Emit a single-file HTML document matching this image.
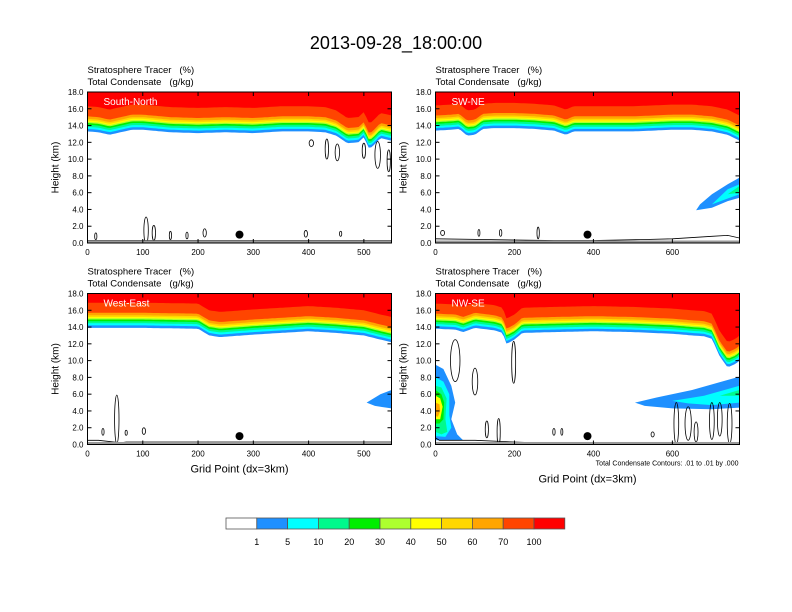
<!DOCTYPE html>
<html><head><meta charset="utf-8"><style>
html,body{margin:0;padding:0;background:#fff}
svg{display:block;font-family:"Liberation Sans",sans-serif}
</style></head><body>
<svg id="c" width="792" height="612" viewBox="0 0 792 612">
<text x="396" y="49" font-size="18" text-anchor="middle">2013-09-28_18:00:00</text>
</svg>
<script>
// ---- data ----
const levelLabels = ["1","5","10","20","30","40","50","60","70","100"];
const levelColors = ["#ffffff","#1e90ff","#00ffff","#00fa8c","#00ee00","#adff2f","#ffff00","#ffd700","#ffa500","#ff4500","#ff0000"];
const levelOffsets = [0,0.3,0.55,0.8,1.0,1.15,1.3,1.5,1.8,3.0]; // km above 1% boundary
const yTicks = [0,2,4,6,8,10,12,14,16,18];
const panelNames = ["South-North","SW-NE","West-East","NW-SE"];
const panelMaxX = [550,770,550,770];
const xTicksP = [[0,100,200,300,400,500],[0,200,400,600],[0,100,200,300,400,500],[0,200,400,600]];
const baseX = [
 [0,20,40,60,80,100,150,200,250,300,350,400,430,450,470,490,500,510,520,530,550],
 [0,40,60,80,100,120,150,200,250,300,330,350,400,500,600,650,700,740,770],
 [0,50,100,200,220,240,300,350,400,450,500,530,550],
 [0,50,70,100,150,170,180,200,220,300,400,500,600,650,680,700,720,740,760,770]];
const baseH = [
 [13.3,13.2,12.9,13.2,13.5,13.5,13.2,13.1,13.2,13.1,13.3,13.3,13.2,12.8,11.9,12.0,12.6,11.2,11.8,12.5,12.2],
 [13.4,13.5,13.6,12.8,12.9,13.6,13.7,13.7,13.6,13.4,12.9,13.3,13.3,13.3,13.5,13.5,13.3,12.9,12.2],
 [13.9,13.9,13.9,13.8,13.0,12.8,13.1,13.3,13.5,13.3,13.0,12.5,12.2],
 [13.8,13.7,13.4,13.9,13.6,13.3,12.0,12.5,13.3,13.4,13.5,13.4,13.2,13.0,12.9,12.6,10.5,9.2,9.6,10.0]];
const blobs = [
 [1,1,[660,3.9,700,4.2,740,5.0,770,5.4,770,7.8,740,7.0,700,5.8,670,4.6]],
 [1,2,[700,4.6,740,5.3,770,5.8,770,7.0,740,6.4]],
 [1,3,[740,5.8,770,6.0,770,6.8]],
 [2,1,[505,5.0,520,4.6,550,4.3,550,6.5,530,6.0]],
 [3,1,[0,9.5,20,9.0,40,7.0,50,5.0,40,3.0,55,1.2,70,0.5,0,0.5]],
 [3,2,[0,8.0,20,7.5,35,6.0,35,3.5,40,2.0,25,0.9,0,1.0]],
 [3,3,[0,7.0,15,6.8,28,5.5,25,3.0,30,1.5,15,1.2,0,1.5]],
 [3,4,[0,6.5,15,6.0,22,5.0,20,3.0,10,2.5,0,2.5]],
 [3,6,[0,5.8,12,5.5,18,4.5,12,3.0,0,3.0]],
 [3,8,[0,5.0,10,4.8,12,4.0,6,3.3,0,3.4]],
 [3,1,[505,5.0,560,5.6,650,6.5,770,8.1,770,4.4,700,4.2,600,4.3,530,4.6]],
 [3,2,[600,5.2,680,5.8,770,7.0,770,5.0,700,4.7,640,4.9]],
 [3,3,[720,5.8,770,6.5,770,5.8]]];
const contours = [
 [0,106,1.5,4,1.6],[0,120,1.2,3,0.9],[0,150,0.9,2,0.5],[0,180,0.9,2,0.4],[0,212,1.2,3,0.5],[0,15,0.8,2,0.4],
 [0,405,11.9,4,0.4],[0,433,11.2,3,1.2],[0,452,10.8,4,1.0],[0,500,11.0,3,0.9],[0,525,10.5,5,1.6],[0,545,9.8,3,1.3],[0,395,1.1,3,0.4],[0,458,1.1,2,0.3],
 [1,18,1.2,5,0.3],[1,110,1.2,2,0.4],[1,165,1.2,3,0.4],[1,260,1.2,3,0.7],
 [2,53,3.0,4,2.9],[2,28,1.5,2,0.4],[2,102,1.6,3,0.4],[2,70,1.4,2,0.3],
 [3,50,10.0,12,2.5],[3,100,7.5,7,1.6],[3,198,9.8,5,2.5],[3,130,1.8,4,1.0],[3,160,1.5,4,1.6],[3,300,1.5,3,0.4],[3,320,1.5,2,0.4],
 [3,610,2.5,6,2.5],[3,640,2.5,8,2.0],[3,660,1.5,5,1.2],[3,700,2.8,6,2.2],[3,720,3.0,6,2.0],[3,745,2.5,6,2.4],[3,550,1.2,4,0.3]];
const terrainX = [[0,550],[0,300,400,520,600,700,740,770],[0,20,60,70,550],[0,10,100,200,250,770]];
const terrainH = [[0.3,0.3],[0.5,0.3,0.3,0.4,0.5,0.8,0.9,0.6],[0.5,0.5,0.2,0.3,0.3],[0.8,0.5,0.5,0.3,0.2,0.2]];
const dotX = [275,385,275,385];

const panels=[{x0:87.5,x1:391.5,y0:92,y1:243},{x0:435.5,x1:739.5,y0:92,y1:243},
              {x0:87.5,x1:391.5,y0:293.5,y1:444.5},{x0:435.5,x1:739.5,y0:293.5,y1:444.5}];
const svg=document.getElementById('c');const NS="http://www.w3.org/2000/svg";
function mk(t,a,p){const e=document.createElementNS(NS,t);for(const k in a)e.setAttribute(k,a[k]);(p||svg).appendChild(e);return e;}
function interp(xs,hs,x){if(x<=xs[0])return hs[0];for(let i=1;i<xs.length;i++){if(x<=xs[i]){const t=(x-xs[i-1])/(xs[i]-xs[i-1]);return hs[i-1]+t*(hs[i]-hs[i-1]);}}return hs[hs.length-1];}

panels.forEach((P,pi)=>{
 const sx=v=>P.x0+(v/panelMaxX[pi])*(P.x1-P.x0);
 const sy=h=>P.y1-(h/18)*(P.y1-P.y0);
 const g=mk('g',{});
 
 
 const cp=mk('clipPath',{id:'cp'+pi},g);
 mk('rect',{x:P.x0,y:P.y0,width:P.x1-P.x0,height:P.y1-P.y0},cp);
 const pg=mk('g',{'clip-path':'url(#cp'+pi+')'},g);
 const N=120;
 levelOffsets.forEach((off,li)=>{
  let d='M'+sx(0)+','+sy(18);
  for(let i=0;i<=N;i++){const x=panelMaxX[pi]*i/N;d+=' L'+sx(x).toFixed(1)+','+sy(interp(baseX[pi],baseH[pi],x)+off).toFixed(1);}
  d+=' L'+sx(panelMaxX[pi])+','+sy(18)+'Z';
  const e=mk('path',{d:d,fill:levelColors[li+1]},pg);
  
  
 });
 blobs.filter(b=>b[0]===pi).forEach(b=>{
  const p=b[2];let pts=[];for(let i=0;i<p.length;i+=2)pts.push(sx(p[i]).toFixed(1)+','+sy(p[i+1]).toFixed(1));
  const e=mk('polygon',{points:pts.join(' '),fill:levelColors[b[1]]},pg);
  
  
 });
 contours.filter(c=>c[0]===pi).forEach(c=>{
  const e=mk('ellipse',{cx:sx(c[1]),cy:sy(c[2]),rx:Math.max(1,sx(c[3])-sx(0)),ry:sy(0)-sy(c[4]),fill:'none',stroke:'#000','stroke-width':0.8},pg);
  
  
 });
 let td='';terrainX[pi].forEach((x,i)=>{td+=(i?' L':'M')+sx(x).toFixed(1)+','+sy(terrainH[pi][i]).toFixed(1);});
 const te=mk('path',{d:td,fill:'none',stroke:'#000','stroke-width':0.8},pg);
 
 
 mk('rect',{x:P.x0,y:sy(0.3),width:P.x1-P.x0,height:sy(0)-sy(0.3),fill:'#999'},pg);
 const dot=mk('circle',{cx:sx(dotX[pi]),cy:sy(1.0),r:4,fill:'#000'},g);
 
 
 mk('rect',{x:P.x0,y:P.y0,width:P.x1-P.x0,height:P.y1-P.y0,fill:'none',stroke:'#000','stroke-width':1},g);
 yTicks.forEach(t=>{
  mk('line',{x1:P.x0,x2:P.x0+4,y1:sy(t),y2:sy(t),stroke:'#000'},g);
  mk('line',{x1:P.x1,x2:P.x1-4,y1:sy(t),y2:sy(t),stroke:'#000'},g);
  const tl=mk('text',{x:P.x0-4,y:sy(t)+3,'font-size':8,'text-anchor':'end'},g);tl.textContent=t.toFixed(1);
  
  
 });
 xTicksP[pi].forEach(t=>{
  mk('line',{x1:sx(t),x2:sx(t),y1:P.y1,y2:P.y1-4,stroke:'#000'},g);
  mk('line',{x1:sx(t),x2:sx(t),y1:P.y0,y2:P.y0+4,stroke:'#000'},g);
  const tl=mk('text',{x:sx(t),y:P.y1+12,'font-size':8,'text-anchor':'middle'},g);tl.textContent=t;
  
  
 });
 const yl=mk('text',{x:0,y:0,'font-size':10,'text-anchor':'middle',transform:'translate('+(P.x0-29)+','+((P.y0+P.y1)/2)+') rotate(-90)'},g);yl.textContent='Height (km)';
 
 
 const nm=mk('text',{x:P.x0+16,y:P.y0+13,'font-size':10,fill:'#fff'},g);nm.textContent=panelNames[pi];
 
 
 const s1=mk('text',{x:P.x0,y:P.y0-19,'font-size':9.5},g);s1.textContent='Stratosphere Tracer   (%)';s1.style.whiteSpace='pre';
 
 
 const s2=mk('text',{x:P.x0,y:P.y0-7,'font-size':9.5},g);s2.textContent='Total Condensate   (g/kg)';s2.style.whiteSpace='pre';
 
 
 if(pi>=2){
  const xt=mk('text',{x:(P.x0+P.x1)/2,y:pi===2?P.y1+28:P.y1+38,'font-size':11,'text-anchor':'middle'},g);xt.textContent='Grid Point (dx=3km)';
  
  
 }
 if(pi===3){
  const n=mk('text',{x:P.x1-1,y:P.y1+21,'font-size':7,'text-anchor':'end'},g);n.textContent='Total Condensate Contours: .01 to .01 by .000';
  
  
 }
});
const cb=mk('g',{});


const cbx0=226,cbw=30.8;
levelColors.forEach((c,i)=>{
 const r=mk('rect',{x:cbx0+i*cbw,y:518,width:cbw,height:11,fill:c,stroke:'#555','stroke-width':0.8},cb);
 
 
});
levelLabels.forEach((l,i)=>{
 const t=mk('text',{x:cbx0+(i+1)*cbw,y:545,'font-size':9,'text-anchor':'middle'},cb);t.textContent=l;
 
 
});
</script>
</body></html>
